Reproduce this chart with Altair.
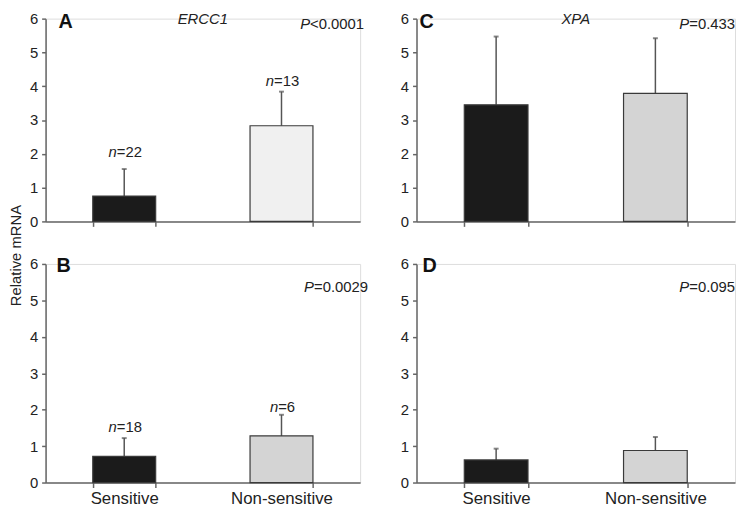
import altair as alt
import pandas as pd

# ---------------- data ----------------
GROUPS = ["Sensitive", "Non-sensitive"]
GENES = {"A": "ERCC1", "C": "XPA"}
MEANS = {"A": [0.75, 2.83], "B": [0.72, 1.28], "C": [3.45, 3.79], "D": [0.62, 0.88]}
ERRS = {"A": [0.80, 1.01], "B": [0.50, 0.58], "C": [2.02, 1.63], "D": [0.31, 0.37]}
NS = {"A": [22, 13], "B": [18, 6]}
PVALS = {"A": "<0.0001", "B": "=0.0029", "C": "=0.433", "D": "=0.095"}
Y_TICKS = [0, 1, 2, 3, 4, 5, 6]
Y_TITLE = "Relative mRNA"

# ---------------- styles ----------------
FONT = "Liberation Sans"
TXT = "#222222"
AXC = "#666666"
DARK = "#1b1b1b"
LIGHT = {"A": "#f0f0f0", "B": "#d4d4d4", "C": "#d4d4d4", "D": "#d4d4d4"}
FS = 15

METRIC = {"0": .556, "1": .556, "2": .556, "3": .556, "4": .556, "5": .556,
          "6": .556, "7": .556, "8": .556, "9": .556, ".": .278, "<": .584,
          "=": .584, "n": .556, "P": .667}


def tw(s, fs):
    return sum(METRIC.get(c, .556) for c in s) * fs


def make_panel(key, w, h, bottom, ytitle, letter_x, letter_y, p_dx, p_y, n_gaps=(7, 7)):
    df = pd.DataFrame({"group": GROUPS, "mean": MEANS[key], "err": ERRS[key]})
    df["upper"] = df["mean"] + df["err"]

    xaxis = alt.Axis(
        title=None, labels=bottom, labelAngle=0, labelFontSize=17, labelFont=FONT,
        labelColor=TXT, labelPadding=3, tickBand="extent", ticks=True, tickSize=5,
        tickColor=AXC, tickWidth=1.5, domainColor=AXC, domainWidth=1.5, grid=False,
    )
    common = dict(values=Y_TICKS, labelFontSize=FS, labelFont=FONT, labelColor=TXT,
                  labelPadding=4, tickSize=4, tickColor=AXC, tickWidth=1.5, domainColor=AXC,
                  domainWidth=1.5, grid=False)
    if ytitle:
        yaxis = alt.Axis(
            title=Y_TITLE, titleFont=FONT, titleFontSize=FS, titleFontWeight="normal",
            titleColor=TXT, titleX=-30, titleY=-9, titleBaseline="middle", titleAngle=270,
            **common)
    else:
        yaxis = alt.Axis(title=None, **common)
    xs = alt.Scale(domain=GROUPS, paddingInner=0.6, paddingOuter=0.3)
    ys = alt.Scale(domain=[0, 6], nice=False)
    X = alt.X("group:N", sort=GROUPS, scale=xs, axis=xaxis)

    base = alt.Chart(df)
    bars = base.mark_bar(stroke="#3a3a3a", strokeWidth=1.2).encode(
        x=X, y=alt.Y("mean:Q", scale=ys, axis=yaxis),
        fill=alt.condition(alt.datum.group == GROUPS[0], alt.value(DARK), alt.value(LIGHT[key])),
    )
    err = base.mark_rule(color="#555555", strokeWidth=1.5).encode(
        x=X, y=alt.Y("mean:Q", scale=ys, axis=yaxis), y2="upper:Q")
    cap = base.mark_tick(color="#555555", size=5, thickness=2).encode(
        x=X, y=alt.Y("upper:Q", scale=ys, axis=yaxis))
    layers = [err, cap, bars]

    one = pd.DataFrame([{"k": key}])
    # n labels
    if key in NS:
        for i, n in enumerate(NS[key]):
            rest = "=" + str(n)
            total = tw("n", FS) + tw(rest, FS)
            start = -total / 2 + 1
            row = alt.Chart(df.iloc[[i]])
            layers.append(row.mark_text(font=FONT, fontSize=FS, fontStyle="italic", align="left",
                                        baseline="alphabetic", dx=start, dy=-n_gaps[i], color=TXT)
                          .encode(x=X, y=alt.Y("upper:Q", scale=ys, axis=yaxis), text=alt.value("n")))
            layers.append(row.mark_text(font=FONT, fontSize=FS, align="left",
                                        baseline="alphabetic", dx=start + tw("n", FS), dy=-n_gaps[i],
                                        color=TXT)
                          .encode(x=X, y=alt.Y("upper:Q", scale=ys, axis=yaxis), text=alt.value(rest)))

    # P value
    rest = PVALS[key]
    xr = w + p_dx
    layers.append(alt.Chart(one).mark_text(font=FONT, fontSize=FS, align="right", baseline="alphabetic",
                                           color=TXT)
                  .encode(x=alt.value(xr), y=alt.value(p_y), text=alt.value(rest)))
    layers.append(alt.Chart(one).mark_text(font=FONT, fontSize=FS, fontStyle="italic", align="right",
                                           baseline="alphabetic", color=TXT)
                  .encode(x=alt.value(xr - tw(rest, FS)), y=alt.value(p_y), text=alt.value("P")))

    # panel letter
    layers.append(alt.Chart(one).mark_text(font=FONT, fontSize=20, fontWeight="bold", align="left",
                                           baseline="top", color="#111111")
                  .encode(x=alt.value(letter_x), y=alt.value(letter_y), text=alt.value(key)))
    # gene title
    if key in GENES:
        layers.append(alt.Chart(one).mark_text(font=FONT, fontSize=FS, fontStyle="italic", align="center",
                                               baseline="top", color=TXT)
                      .encode(x=alt.value(w / 2), y=alt.value(-7), text=alt.value(GENES[key])))

    return alt.layer(*layers).properties(width=w, height=h)


LW, RW = 318, 322
TH, BH = 205, 221

pA = make_panel("A", LW, TH, False, False, 13, -7, 4, 10, n_gaps=(12, 6))
pC = make_panel("C", RW, TH, False, False, 3, -7, 0, 10)
pB = make_panel("B", LW, BH, True, True, 11, -8, 8, 28, n_gaps=(6, 3))
pD = make_panel("D", RW, BH, True, False, 6, -8, 0, 28)

chart = alt.concat(
    pA, pC, pB, pD, columns=2, bounds="flush",
    spacing=alt.RowColnumber(row=43, column=57),
).properties(padding=0).configure_view(stroke=None).configure(font=FONT, background="white")

chart.save("out.html", embed_options={"renderer": "svg", "actions": False})
